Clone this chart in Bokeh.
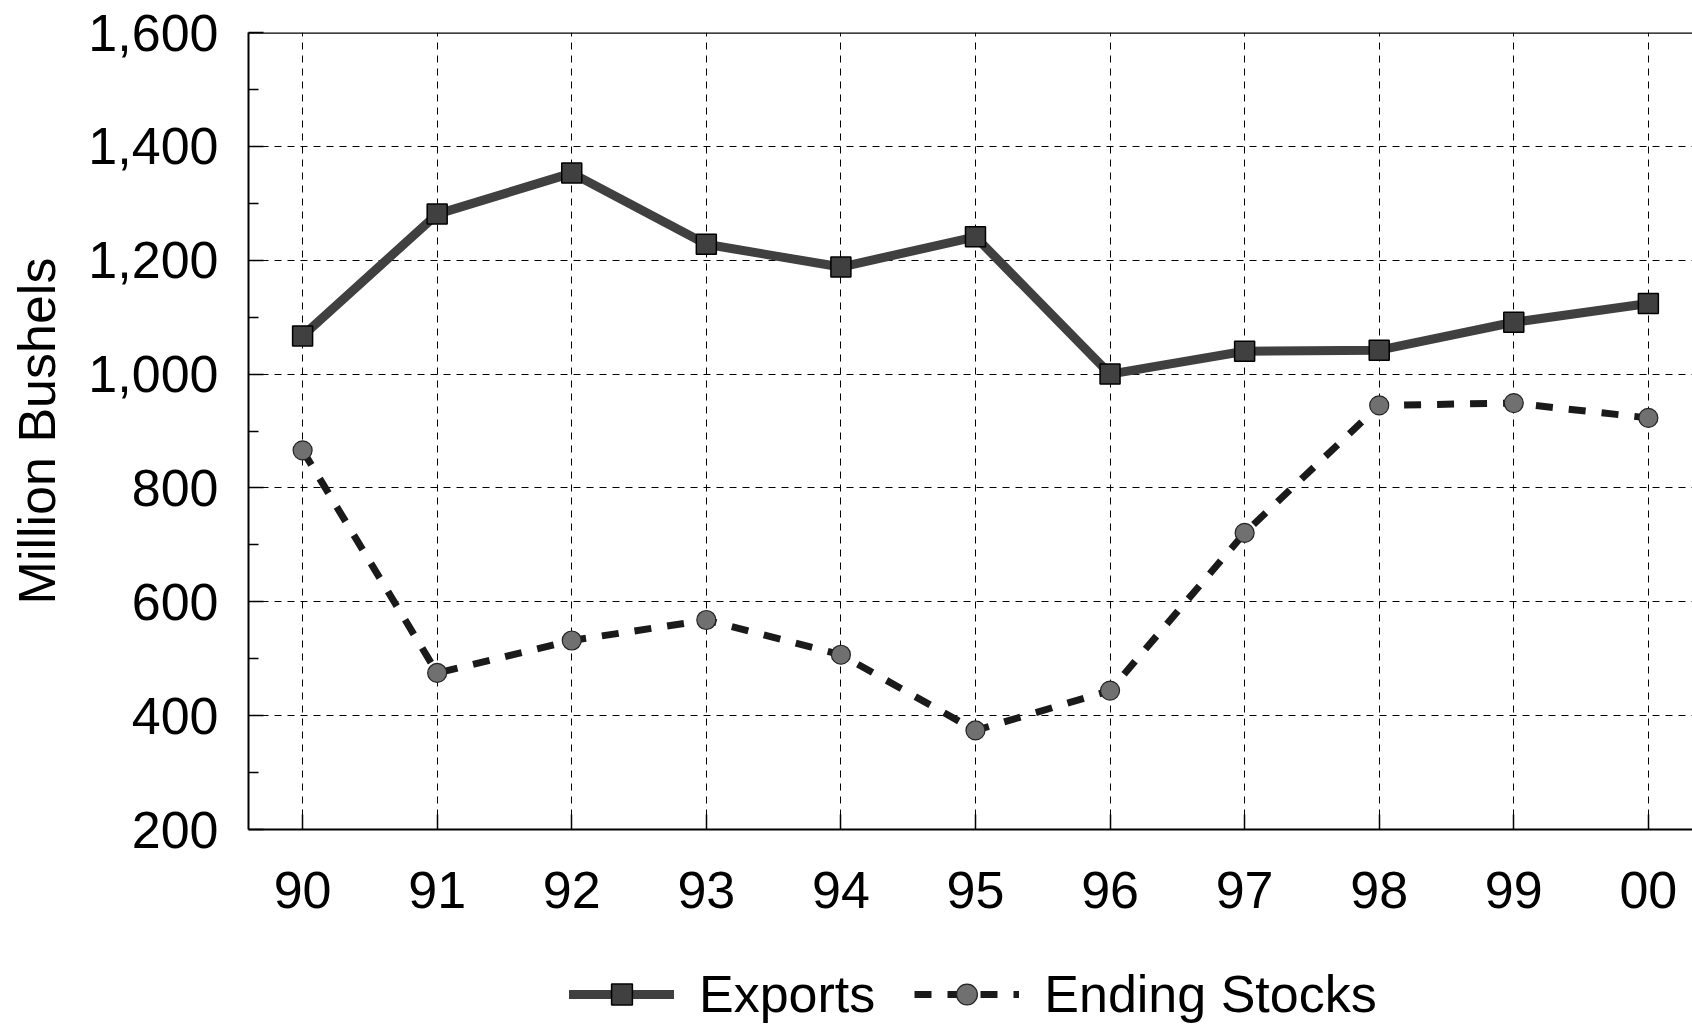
from bokeh.plotting import figure
from bokeh.layouts import column
from bokeh.models import (FixedTicker, NumeralTickFormatter, Legend, LegendItem,
                          Range1d, Span)
from bokeh.embed import file_html
from bokeh.resources import INLINE

# ---- data ----
year_labels = ["90", "91", "92", "93", "94", "95", "96", "97", "98", "99", "00"]
exports = [1067, 1281, 1353, 1228, 1188, 1241, 1000, 1040, 1042, 1091, 1124]
ending_stocks = [866, 475, 532, 568, 507, 374, 444, 721, 945, 949, 923]
y_ticks = [200, 400, 600, 800, 1000, 1200, 1400, 1600]
y_minor = [300, 500, 700, 900, 1100, 1300, 1500]
series_names = ["Exports", "Ending Stocks"]

x = list(range(len(year_labels)))
FONT = "Liberation Sans"
FS = "52px"

EXP_STYLE = dict(line_color="#404040", line_width=9, line_join="round",
                 line_cap="round")
EXP_MARK = dict(marker="square", size=20, fill_color="#404040",
                line_color="black", line_width=1.5)
STK_STYLE = dict(line_color="#1a1a1a", line_width=7, line_dash="17 16")
STK_MARK = dict(marker="circle", size=19, fill_color="#707070",
                line_color="#222222", line_width=1.2)

p = figure(width=1692, height=939, output_backend="svg", toolbar_location=None,
           x_range=Range1d(-0.402, 10.328), y_range=Range1d(200, 1600),
           min_border_left=248, min_border_right=0, min_border_top=32,
           min_border_bottom=110)
p.outline_line_color = None
p.background_fill_color = "white"

# axes
xa = p.xaxis[0]
xa.ticker = FixedTicker(ticks=x)
xa.major_label_overrides = {i: lab for i, lab in enumerate(year_labels)}
xa.major_tick_in = 15
xa.major_tick_out = 0
xa.minor_tick_line_color = None
xa.axis_line_width = 2
xa.major_tick_line_width = 1.5
xa.major_label_text_font = FONT
xa.major_label_text_font_size = FS
xa.major_label_text_color = "black"
xa.major_label_standoff = 42

ya = p.yaxis[0]
ya.ticker = FixedTicker(ticks=y_ticks, minor_ticks=y_minor)
ya.formatter = NumeralTickFormatter(format="0,0")
ya.major_tick_in = 15
ya.major_tick_out = 0
ya.minor_tick_in = 10
ya.minor_tick_out = 0
ya.axis_line_width = 2
ya.major_tick_line_width = 1.5
ya.minor_tick_line_width = 1.5
ya.major_label_text_font = FONT
ya.major_label_text_font_size = FS
ya.major_label_text_color = "black"
ya.major_label_standoff = 30
ya.axis_label = "Million Bushels"
ya.axis_label_text_font = FONT
ya.axis_label_text_font_size = FS
ya.axis_label_text_font_style = "normal"
ya.axis_label_text_color = "black"
ya.axis_label_standoff = 19

p.add_layout(Span(location=1600, dimension="width", line_color="black",
                  line_width=2.5))

# grid
p.xgrid.ticker = FixedTicker(ticks=x)
p.ygrid.ticker = FixedTicker(ticks=y_ticks[1:-1])
for g in (p.xgrid, p.ygrid):
    g.grid_line_color = "black"
    g.grid_line_dash = "7 6"
    g.grid_line_width = 1

# series
p.line(x, exports, **EXP_STYLE)
p.scatter(x, exports, **EXP_MARK)
p.line(x, ending_stocks, **STK_STYLE)
p.scatter(x, ending_stocks, **STK_MARK)

# legend strip: a second figure (frames are aligned by the column layout);
# its renderers carry the same series but fall outside its view range
p2 = figure(width=1692, height=85, output_backend="svg", toolbar_location=None,
            x_range=Range1d(-0.402, 10.328), y_range=Range1d(5000, 6000),
            min_border_left=248, min_border_right=0, min_border_top=0,
            min_border_bottom=0)
p2.axis.visible = False
p2.grid.visible = False
p2.outline_line_color = None
e1 = p2.line(x, exports, **EXP_STYLE)
e2 = p2.scatter(x, exports, **EXP_MARK)
s1 = p2.line(x, ending_stocks, **STK_STYLE)
s2 = p2.scatter(x, ending_stocks, **STK_MARK)

legend = Legend(items=[LegendItem(label=series_names[0], renderers=[e1, e2], index=0),
                       LegendItem(label=series_names[1], renderers=[s1, s2], index=0)],
                orientation="horizontal", location=(321, 0),
                label_text_font=FONT, label_text_font_size=FS,
                label_text_color="black",
                glyph_width=105, glyph_height=52, label_standoff=25,
                spacing=39, border_line_color=None, background_fill_alpha=0,
                padding=0, margin=0)
p2.add_layout(legend, "center")

layout = column(p, p2, spacing=0)
open("out.html", "w").write(file_html(layout, INLINE))
